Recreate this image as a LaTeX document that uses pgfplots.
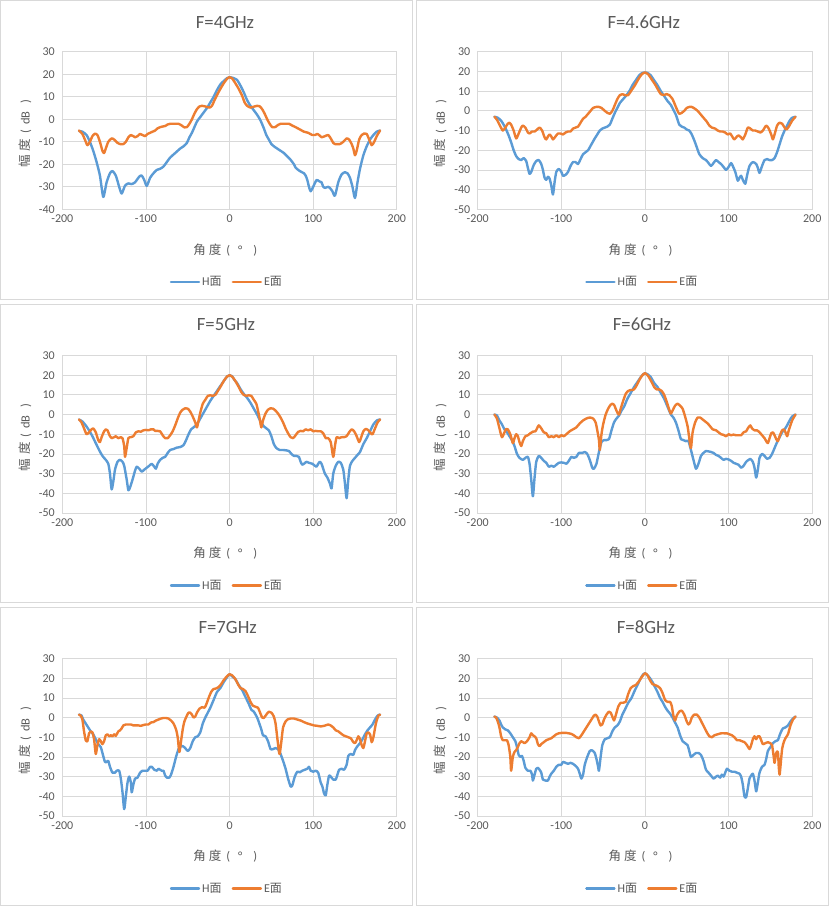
\documentclass[border=0pt]{standalone}
\usepackage{pgfplots}
\pgfplotsset{compat=1.18}
\usepackage{fontspec}
\setmainfont{Carlito}
\newfontfamily\cjk{Noto Sans CJK SC}
\definecolor{hblue}{HTML}{5B9BD5}
\definecolor{eorange}{HTML}{ED7D31}
\definecolor{gridc}{HTML}{D9D9D9}
\definecolor{txtc}{HTML}{595959}
\pgfplotsset{
  panel/.style={
    scale only axis, width=334.5pt, height=157.5pt, anchor=south west,
    xmin=-200, xmax=200, xtick={-200,-100,0,100,200},
    ymax=30, ytick distance=10,
    /pgf/number format/assume math mode=true,
    grid=major, major grid style={draw=gridc, line width=0.75pt},
    axis line style={draw=gridc, line width=0.75pt},
    major tick length=0pt, tick style={draw=none},
    ticklabel style={font=\fontsize{12}{14}\selectfont, text=txtc},
    yticklabel style={xshift=-4pt},
    xticklabel style={yshift=-2pt},
    xlabel={{\cjk 角\kern3pt度}\kern5pt(\kern8pt°\kern11pt)},
    ylabel={{\cjk 幅\kern4pt度}\kern5pt(\kern5pt dB\kern8pt)},
    label style={font=\fontsize{12.5}{15}\selectfont, text=txtc},
    xlabel style={at={(axis description cs:0.487,-0.257)}, anchor=center},
    ylabel style={at={(axis description cs:-0.111,0.48)}, anchor=center},
    legend columns=2,
    legend style={at={(0.492,-0.46)}, anchor=center, draw=none, fill=none,
      font=\fontsize{12}{14}\selectfont, text=txtc,
      /tikz/every even column/.append style={column sep=8pt}},
    legend image code/.code={\draw[#1] (0pt,0pt) -- (28pt,0pt);},
    every axis plot/.append style={line width=2.4pt, line join=round, line cap=round},
  },
  hstyle/.style={hblue, no markers, smooth, tension=0.4},
  estyle/.style={eorange, no markers, smooth, tension=0.4},
}
\begin{document}
\begin{tikzpicture}[x=1pt,y=1pt]
\useasboundingbox (0,0) rectangle (829,907);
\begin{scope}[draw=gridc, line width=0.75pt]
\draw (0.5,608) rectangle (412.3,906.5);
\draw (416,608) rectangle (828.5,906.5);
\draw (0.5,305) rectangle (412.3,603);
\draw (416,305) rectangle (828.5,603);
\draw (0.5,1.5) rectangle (412.3,300);
\draw (416,1.5) rectangle (828.5,300);
\end{scope}
\begin{scope}[font=\fontsize{18.7}{22}\selectfont, text=txtc]
\node[anchor=base] at (225,878.7) {F=4GHz};
\node[anchor=base] at (643.7,878.7) {F=4.6GHz};
\node[anchor=base] at (226,576.3) {F=5GHz};
\node[anchor=base] at (642,576.3) {F=6GHz};
\node[anchor=base] at (227.7,273) {F=7GHz};
\node[anchor=base] at (646,273) {F=8GHz};
\end{scope}

% ---------- F=4GHz
\begin{axis}[panel, at={(62.3pt,697.7pt)}, ymin=-40]
\addplot[hstyle] coordinates {(-180,-5.2) (-176,-5.5) (-171,-7) (-167,-10) (-163,-14) (-159,-19) (-155,-25) (-151,-34.5) (-147,-28) (-143,-24) (-140,-23) (-136,-25) (-132,-30) (-129,-33) (-125,-29.5) (-121,-28.5) (-117,-28.8) (-113,-28) (-108,-25.5) (-105,-25) (-102,-27) (-99,-29.6) (-95,-26) (-91,-24) (-87,-22.5) (-83,-22) (-79,-21) (-75,-19) (-71,-17) (-65,-15) (-59,-13) (-55,-12) (-51,-10.5) (-48,-8) (-45,-6) (-39,-1) (-35,1) (-31,3) (-27,5) (-23,7.5) (-19,10) (-15,13) (-11,15.5) (-7,17) (-3,18.3) (0,18.7) (4,18.4) (9,17.5) (13,15) (17,12) (21,8.5) (25,6) (29,4) (33,2) (37,-0.5) (41,-4) (44,-7) (47,-9) (50,-11) (53,-12) (59,-13.5) (65,-15) (69,-16.5) (73,-18) (77,-20) (79,-21.5) (84,-23) (89,-24) (91,-25) (93,-27) (95,-30) (97,-32) (100,-30) (104,-27) (107,-27.5) (110,-28) (112,-30) (114,-30.5) (118,-30) (120,-30.5) (123,-32) (126,-34) (130,-28) (134,-24.5) (138,-23.5) (141,-24) (144,-26) (147,-30) (150,-35) (153,-28) (156,-22) (160,-16) (164,-12) (168,-9) (172,-7) (176,-5.5) (180,-5)};
\addplot[estyle] coordinates {(-180,-5) (-176,-6.5) (-173,-9) (-170,-11.5) (-167,-10) (-164,-7.5) (-161,-6.4) (-158,-7) (-155,-10) (-152,-14) (-150,-15) (-148,-13) (-145,-10) (-141,-8.5) (-138,-9) (-134,-10.5) (-131,-11) (-127,-11) (-124,-10) (-121,-8) (-118,-7) (-115,-7.5) (-113,-8) (-110,-7.5) (-107,-6.5) (-104,-7) (-101,-7.5) (-98,-6.5) (-95,-6) (-92,-5.5) (-89,-5) (-86,-4) (-83,-3.5) (-80,-3.2) (-77,-3) (-74,-2.3) (-71,-2) (-66,-2) (-61,-2) (-57,-2.8) (-54,-3.6) (-51,-3.5) (-48,-2) (-45,0) (-42,2.5) (-39,4.5) (-36,5.7) (-33,6) (-30,5.8) (-27,5.5) (-24,5.2) (-21,6) (-18,8.5) (-14,11.5) (-11,13.5) (-7,16) (-3,18) (0,18.7) (3,18.2) (7,16) (11,13.5) (15,10.5) (18,7.5) (21,6) (25,5.2) (28,5.5) (33,6) (36,5.8) (39,4.5) (42,2.5) (45,0) (48,-2) (51,-3.5) (55,-3.4) (58,-2.5) (61,-2) (66,-2) (71,-2) (75,-2.8) (79,-3.5) (84,-4.5) (89,-5.5) (94,-6) (99,-7) (102,-7) (105,-6.5) (108,-7.3) (110,-8) (114,-7.5) (118,-7) (121,-8.5) (124,-10.5) (126,-11) (132,-11) (136,-10) (140,-8.5) (143,-9) (146,-11) (148,-13) (150,-16) (152,-14) (155,-9) (158,-7) (161,-6.3) (164,-6.5) (167,-9) (170,-11.5) (173,-10) (176,-7.5) (180,-5)};
\legend{H{\cjk 面}, E{\cjk 面}}
\end{axis}

% ---------- F=4.6GHz
\begin{axis}[panel, at={(477.7pt,697.7pt)}, ymin=-50]
\addplot[hstyle] coordinates {(-180,-3) (-176,-3.5) (-172,-5) (-169,-7) (-166,-9.5) (-163,-12.5) (-160,-16) (-157,-20) (-154,-23) (-151,-24.5) (-148,-25) (-145,-24) (-142,-25.5) (-140,-29) (-138,-32) (-136,-31) (-133,-27.5) (-130,-25.5) (-127,-25) (-124,-27) (-122,-30) (-120,-34) (-118,-35) (-116,-33.5) (-114,-34.5) (-112,-38) (-110,-42.5) (-108,-36) (-106,-31) (-103,-29.5) (-100,-31) (-98,-33) (-95,-32.5) (-92,-31) (-89,-28) (-86,-26) (-83,-26) (-80,-27) (-77,-24.5) (-74,-22) (-71,-21) (-68,-20) (-64,-17) (-60,-14) (-57,-12) (-54,-10) (-51,-9) (-48,-8.5) (-45,-8) (-42,-7) (-39,-4) (-36,-1) (-33,1.5) (-30,4) (-26,6) (-22,8) (-18,10.5) (-15,13) (-11,15.5) (-7,18) (-3,19.3) (0,19.5) (3,19.3) (7,18) (11,15.5) (15,13) (19,10) (23,7.5) (27,5) (31,3) (34,0.5) (37,-2) (39,-4.5) (41,-7) (44,-8) (47,-8.5) (50,-9.5) (53,-10) (56,-12) (59,-15) (62,-18.5) (65,-22) (69,-24) (73,-25) (76,-26.5) (79,-28) (82,-26.5) (85,-25) (88,-26) (91,-27) (94,-28.5) (97,-30) (100,-28.5) (103,-26.5) (105,-28) (108,-31) (111,-35.5) (113,-34) (115,-33) (117,-35) (120,-37) (122,-33) (125,-28) (129,-26) (133,-27) (135,-29) (137,-31.5) (140,-28) (143,-25) (146,-24.5) (149,-25) (152,-25) (155,-24) (158,-21) (161,-17) (164,-13) (167,-10) (170,-7.5) (173,-5) (176,-3.5) (180,-3)};
\addplot[estyle] coordinates {(-180,-3) (-177,-4.5) (-174,-7) (-170,-10) (-167,-8.5) (-164,-6.5) (-162,-6) (-160,-7) (-157,-10) (-154,-14) (-151,-11.5) (-148,-8.5) (-146,-7.5) (-143,-8.5) (-140,-11) (-138,-11.5) (-135,-10.5) (-132,-10.5) (-129,-9.5) (-126,-8.5) (-123,-10) (-120,-13.5) (-118,-14.5) (-116,-13) (-114,-12) (-112,-13) (-110,-14.5) (-107,-13) (-104,-11.5) (-101,-11.5) (-98,-12) (-95,-11) (-92,-10.5) (-89,-10.5) (-86,-9) (-83,-8.5) (-80,-8) (-77,-6) (-74,-4) (-71,-3) (-68,-1.5) (-65,0) (-62,1.5) (-58,2) (-55,2) (-52,1.5) (-48,0) (-45,-1) (-42,-1.5) (-39,0) (-36,3) (-33,6) (-30,8) (-27,8.5) (-24,8) (-20,8) (-16,10.5) (-12,13) (-8,16) (-4,18.5) (0,19.5) (4,18.5) (8,16) (12,13.5) (16,10.5) (19,8.5) (22,8) (26,8.5) (29,8) (33,6) (36,3) (39,0) (41,-1.5) (44,-1) (47,0) (50,1.5) (53,2) (56,2) (60,1) (63,0) (67,-2) (71,-4) (74,-5.5) (77,-7.5) (80,-8.5) (84,-9) (87,-10) (90,-10.5) (93,-10.5) (96,-11) (99,-12) (102,-11.5) (105,-13.5) (107,-14.5) (110,-13) (112,-12.5) (115,-13.5) (117,-14.5) (120,-12) (123,-8.5) (126,-9) (129,-10) (132,-10) (135,-10.5) (138,-11) (141,-10) (145,-7.5) (148,-9) (151,-12) (153,-14.5) (155,-12) (158,-7.5) (161,-6) (164,-6.5) (167,-8.5) (169,-9.5) (172,-8) (176,-5) (180,-3)};
\legend{H{\cjk 面}, E{\cjk 面}}
\end{axis}

% ---------- F=5GHz
\begin{axis}[panel, at={(62.3pt,394pt)}, ymin=-50]
\addplot[hstyle] coordinates {(-180,-2.5) (-176,-3.5) (-172,-5.5) (-168,-8) (-164,-11) (-160,-14.5) (-156,-18) (-152,-21) (-148,-23) (-145,-25) (-143,-30) (-141,-38) (-139,-34) (-137,-28) (-134,-24) (-131,-23) (-128,-24) (-126,-26) (-123,-33) (-121,-38.5) (-119,-37) (-116,-33) (-113,-28.5) (-111,-26.5) (-108,-27.5) (-105,-29) (-102,-28) (-99,-27) (-96,-26) (-93,-25) (-90,-26.5) (-88,-27.5) (-86,-25) (-83,-23) (-80,-22) (-77,-21.5) (-74,-19.5) (-71,-18) (-67,-17.5) (-63,-16.8) (-59,-16.5) (-55,-15.5) (-52,-13) (-49,-10) (-46,-7.5) (-43,-6.5) (-39,-5) (-35,-2) (-31,1) (-27,4) (-23,7) (-19,9.5) (-15,12) (-11,14.5) (-7,17) (-3,19.3) (0,20) (3,19.5) (6,17.5) (9,16) (13,13) (17,10.5) (21,8.5) (25,6) (29,3) (33,0) (37,-3.5) (41,-6) (44,-7) (47,-8) (50,-11) (53,-15) (56,-17) (60,-18) (64,-18) (68,-18.2) (71,-18.5) (74,-20) (77,-21) (80,-21) (83,-21.5) (85,-24) (87,-25.5) (89,-25) (92,-24) (95,-24.5) (99,-25) (102,-26) (104,-26.5) (106,-25) (108,-24) (110,-25) (112,-27.5) (114,-30) (117,-32) (120,-35) (122,-37.5) (124,-30) (127,-26) (130,-24) (133,-24.5) (136,-28) (138,-35) (140,-42.5) (142,-33) (144,-26) (147,-23.5) (150,-22) (153,-20.5) (156,-19) (160,-15) (164,-12) (168,-8.5) (172,-5) (176,-3) (180,-2.5)};
\addplot[estyle] coordinates {(-180,-2.5) (-177,-4) (-174,-7) (-171,-10) (-168,-9) (-165,-7.5) (-163,-7) (-160,-9) (-157,-13) (-155,-14) (-153,-11.5) (-150,-8.5) (-148,-7.5) (-146,-8) (-143,-11) (-141,-12) (-138,-11.5) (-136,-11) (-133,-12) (-130,-11.5) (-128,-12) (-126,-16) (-125,-21.5) (-123,-17) (-121,-12) (-118,-11.5) (-115,-11) (-112,-9) (-109,-8.5) (-106,-8.7) (-103,-8) (-100,-7.8) (-97,-8) (-94,-7.5) (-91,-7.5) (-89,-8.3) (-86,-8.3) (-83,-8.5) (-80,-10.5) (-77,-12) (-74,-12) (-71,-10.5) (-68,-8.5) (-65,-5.5) (-62,-2) (-59,1) (-56,2.5) (-53,3.2) (-50,3) (-47,1.5) (-44,-1) (-41,-4) (-39,-6.5) (-37,-3) (-35,1) (-32,5.5) (-29,7.5) (-26,9.5) (-23,9.8) (-20,9.5) (-17,10) (-14,12) (-11,14) (-7,17) (-3,19.3) (0,20) (3,19.3) (7,17) (11,14) (14,11.5) (17,10) (20,9.5) (23,9.8) (26,9.5) (29,7.5) (32,5.5) (34,2) (36,-2) (38,-6.5) (40,-3) (43,0.5) (46,2.5) (49,3.2) (52,3) (55,2) (58,0.5) (61,-1.5) (64,-4) (67,-7) (70,-9.5) (73,-11.5) (76,-12) (79,-10.5) (82,-8.8) (85,-8.3) (88,-8.5) (91,-7.5) (94,-8) (97,-7.5) (100,-8.5) (103,-8.3) (106,-8.5) (109,-8.5) (112,-9.5) (115,-12) (118,-12) (121,-14) (124,-21.5) (126,-16) (128,-11.5) (131,-12) (134,-11.5) (137,-11.5) (140,-11) (143,-9) (146,-7.5) (149,-8.5) (152,-11) (155,-14) (157,-12) (160,-8.5) (163,-7.3) (166,-8) (169,-9.5) (171,-10) (174,-7) (177,-4) (180,-2.5)};
\legend{H{\cjk 面}, E{\cjk 面}}
\end{axis}

% ---------- F=6GHz
\begin{axis}[panel, at={(477.7pt,394pt)}, ymin=-50]
\addplot[hstyle] coordinates {(-180,0) (-177,-0.5) (-174,-3) (-171,-5) (-168,-7.5) (-165,-9) (-162,-11) (-159,-13) (-156,-16) (-153,-20) (-150,-22) (-146,-23) (-143,-22) (-140,-21.5) (-138,-25) (-136,-33) (-134,-41.5) (-132,-32) (-130,-24) (-127,-21) (-124,-22) (-121,-23.5) (-118,-24.5) (-115,-26.5) (-112,-26) (-109,-26.5) (-106,-25.5) (-103,-24.5) (-100,-24.3) (-97,-24.5) (-94,-25) (-91,-23.5) (-88,-21.5) (-85,-22) (-82,-21.5) (-79,-19.5) (-75,-19.5) (-72,-19) (-69,-20) (-66,-23) (-63,-27) (-61,-27.5) (-58,-25) (-55,-19) (-52,-14) (-49,-13) (-46,-13) (-43,-12.5) (-40,-8) (-37,-4) (-34,-2) (-31,-0.5) (-28,2) (-25,4) (-21,8) (-17,11) (-13,14) (-9,16.5) (-5,19) (-2,20.5) (0,21) (3,20.5) (7,19) (11,16) (15,14) (19,11) (23,8) (27,4) (31,0) (34,-1.5) (37,-4) (40,-8) (43,-12.5) (46,-13) (49,-13.5) (52,-13.5) (55,-18) (58,-23) (61,-27.5) (64,-25) (67,-21) (70,-19.5) (73,-18.5) (76,-18.7) (79,-19) (82,-19.5) (85,-20.5) (88,-21) (91,-22) (94,-23) (97,-22.5) (100,-22.8) (103,-23.5) (106,-24.5) (109,-25) (112,-25.5) (115,-27) (118,-26) (121,-24) (124,-23) (126,-22.5) (129,-24) (131,-27) (133,-32) (135,-28) (137,-22) (140,-20) (143,-21) (146,-22.5) (149,-22) (152,-20) (155,-17) (158,-14) (161,-11.5) (164,-9) (167,-7.5) (170,-5.5) (173,-3) (176,-1) (180,0)};
\addplot[estyle] coordinates {(-180,0) (-177,-2) (-174,-7) (-171,-11.5) (-168,-9) (-166,-7.3) (-164,-7.5) (-161,-10) (-158,-14.5) (-156,-12) (-154,-10) (-152,-11) (-150,-14) (-148,-16) (-146,-13.5) (-143,-11) (-140,-10.5) (-137,-9.5) (-134,-8.7) (-131,-8.5) (-129,-7) (-127,-5.5) (-124,-7) (-121,-9) (-118,-9.5) (-115,-11.5) (-112,-11) (-109,-11.5) (-106,-10.5) (-103,-11.5) (-100,-10.5) (-97,-11) (-94,-10) (-90,-8.5) (-86,-7.5) (-82,-6.5) (-78,-4.5) (-74,-3) (-70,-2) (-66,-1.5) (-62,-2) (-59,-4) (-57,-8) (-55,-13) (-54,-18) (-52,-10) (-50,-5) (-47,0) (-44,3) (-41,5) (-39,5.5) (-37,5) (-35,3) (-33,1) (-31,0) (-29,3) (-26,7) (-23,10.5) (-20,12) (-17,12.5) (-14,12.5) (-11,14) (-8,16.5) (-4,19.5) (0,21) (4,19.5) (8,16.5) (11,14) (14,12.8) (17,12.8) (20,12) (23,10) (26,6.5) (29,2.5) (31,0.5) (33,2) (36,4.5) (39,5.5) (42,4.5) (45,3) (48,-1) (51,-6) (53,-12) (55,-17) (57,-9) (60,-4) (63,-1.5) (66,-1.5) (69,-2.5) (72,-3.5) (75,-4.5) (78,-6) (81,-7.5) (85,-8) (88,-9) (91,-10) (94,-10.3) (97,-11) (100,-10) (103,-10.5) (106,-10.2) (109,-10.5) (112,-10.5) (115,-10.5) (118,-9) (121,-8.5) (123,-7) (126,-5.5) (128,-7) (131,-8) (134,-8) (137,-9) (140,-10.5) (143,-12) (145,-13.5) (147,-14.5) (149,-12) (151,-9.5) (153,-9) (155,-10.5) (157,-12.5) (159,-13.5) (161,-11) (164,-8) (166,-7.5) (168,-9) (170,-11) (172,-8) (176,-3) (180,0)};
\legend{H{\cjk 面}, E{\cjk 面}}
\end{axis}

% ---------- F=7GHz
\begin{axis}[panel, at={(62.3pt,91pt)}, ymin=-50]
\addplot[hstyle] coordinates {(-180,1.5) (-177,1) (-175,-1) (-172,-3) (-169,-5) (-166,-7) (-163,-8.5) (-160,-11) (-157,-13.5) (-154,-15) (-152,-18) (-149,-22.5) (-147,-22.5) (-145,-22) (-143,-25) (-140,-28) (-137,-28) (-135,-27) (-132,-27) (-130,-31) (-128,-38) (-126,-46.5) (-124,-40) (-122,-33) (-120,-30) (-118,-33) (-117,-38) (-115,-34) (-113,-31) (-110,-30.5) (-107,-28) (-104,-27) (-101,-27) (-98,-27) (-95,-25) (-93,-25) (-90,-26.5) (-87,-27) (-85,-26) (-83,-26.5) (-81,-27) (-79,-27) (-77,-29.5) (-75,-30.5) (-72,-30.5) (-70,-29) (-67,-25) (-64,-20) (-61,-16) (-59,-14.8) (-56,-14.5) (-53,-15.5) (-50,-17) (-47,-15.5) (-44,-12) (-41,-10) (-38,-9.5) (-35,-7.5) (-32,-3) (-29,0) (-26,2.5) (-23,5) (-19,9) (-15,13) (-11,15) (-7,18) (-3,20.5) (0,22) (3,21) (7,19.5) (11,16.5) (15,14) (19,10.5) (23,7) (26,4) (29,3) (33,0) (36,-3.5) (38,-6) (40,-9) (43,-9.5) (46,-12) (49,-16) (52,-16) (55,-15.5) (58,-16) (61,-18.5) (64,-22) (67,-26) (70,-31) (73,-35) (75,-34.5) (78,-30) (81,-27.5) (84,-27.8) (87,-27) (90,-26.5) (93,-26) (95,-25) (97,-27) (100,-27.5) (103,-27) (106,-28) (109,-33) (111,-35) (113,-38.5) (115,-39.5) (117,-34) (119,-29.5) (121,-30) (124,-31.5) (127,-31.5) (129,-29) (131,-26.5) (134,-26) (137,-26.5) (140,-24) (142,-19.5) (145,-18.5) (148,-19) (150,-16.5) (153,-14.5) (156,-13) (159,-11) (162,-8.5) (165,-6.5) (168,-5) (171,-3.5) (174,-1) (177,1) (180,1.5)};
\addplot[estyle] coordinates {(-180,1.5) (-178,1) (-176,-1) (-174,-7) (-172,-11.5) (-170,-12) (-168,-8) (-166,-7) (-164,-7.5) (-162,-11) (-160,-18.5) (-158,-14) (-156,-11) (-154,-12) (-152,-13.5) (-150,-12) (-148,-9) (-146,-8.5) (-144,-9.5) (-142,-9) (-140,-9.5) (-138,-8.5) (-136,-9.3) (-133,-7) (-131,-6.5) (-129,-5.5) (-127,-4) (-124,-3.5) (-121,-3.5) (-118,-3.5) (-115,-4) (-112,-4) (-109,-4) (-106,-4.2) (-103,-3.8) (-100,-3.5) (-97,-3.5) (-94,-2.5) (-91,-2.3) (-88,-1.5) (-85,-1) (-82,-0.5) (-79,-0.2) (-76,-0.2) (-73,-0.5) (-70,-1.5) (-67,-3) (-64,-6) (-62,-10) (-60,-17.5) (-58,-12) (-56,-6) (-54,-2) (-51,1) (-49,2.5) (-47,2.5) (-45,1.5) (-43,0) (-41,0.5) (-39,2.5) (-36,4.5) (-33,5.3) (-30,5) (-28,6.5) (-25,10) (-22,13) (-19,14.5) (-16,14.8) (-13,15.5) (-10,17) (-7,19) (-3,21) (0,22) (3,21.5) (7,19.5) (10,17) (13,15) (16,14.5) (19,13.5) (22,11) (25,8) (28,6) (31,5.5) (34,5) (37,2) (39,0) (41,-0.2) (44,1.5) (47,3) (50,2.5) (53,0.5) (55,-3) (57,-10) (59,-17) (60,-18.5) (62,-12) (64,-5) (67,-2) (70,-0.8) (73,-0.5) (77,-0.5) (81,-1) (85,-1.5) (89,-2.3) (93,-3) (97,-3.5) (101,-4) (105,-4.2) (109,-4.5) (113,-4.2) (116,-3.8) (118,-3.5) (121,-4) (124,-5) (127,-6.5) (130,-7) (133,-8) (136,-9) (139,-9.5) (142,-10) (145,-10.5) (148,-12.5) (150,-13) (152,-11.5) (154,-9.5) (156,-11) (158,-14) (160,-15.5) (162,-12) (164,-8) (166,-7.5) (168,-8.5) (170,-12.5) (172,-10) (175,-3) (178,1) (180,1.5)};
\legend{H{\cjk 面}, E{\cjk 面}}
\end{axis}

% ---------- F=8GHz
\begin{axis}[panel, at={(477.7pt,91pt)}, ymin=-50]
\addplot[hstyle] coordinates {(-180,0.5) (-177,0) (-174,-1.5) (-172,-3.5) (-170,-5) (-167,-6) (-164,-6.5) (-161,-8) (-158,-10) (-155,-12) (-153,-15) (-151,-19) (-149,-20) (-147,-19.5) (-145,-22) (-143,-25.5) (-140,-27) (-137,-27) (-135,-29) (-134,-32) (-132,-29) (-130,-26) (-128,-25.5) (-126,-26.5) (-124,-28) (-122,-31.5) (-119,-32) (-116,-32) (-114,-30) (-112,-28.5) (-109,-27) (-106,-25) (-103,-24) (-100,-24) (-98,-22.5) (-95,-23) (-92,-23.5) (-89,-23) (-86,-23.5) (-83,-24.5) (-80,-26) (-78,-28.5) (-76,-31) (-74,-29) (-72,-24) (-69,-20) (-66,-17) (-64,-16.5) (-62,-17) (-60,-18) (-58,-21) (-56,-25) (-55,-27) (-53,-20) (-51,-14) (-48,-11) (-45,-10.5) (-42,-10) (-39,-7) (-36,-5) (-33,-4) (-30,-2) (-27,1.5) (-24,4) (-20,7.5) (-16,10) (-13,13) (-9,16.5) (-5,20) (-2,22) (0,22.5) (3,21.5) (6,20) (9,18) (12,15.5) (15,13) (18,10) (21,8) (24,5.5) (27,3.5) (30,2) (33,0) (36,-2.5) (39,-5) (42,-9) (45,-12) (48,-13) (51,-14) (53,-17) (55,-20) (58,-19) (61,-18) (64,-18) (67,-19) (70,-22) (73,-26.5) (76,-28) (79,-29.5) (82,-31) (85,-30) (87,-29.5) (90,-30.5) (92,-29) (94,-30) (96,-28) (98,-26) (101,-27) (104,-27.5) (107,-27.5) (110,-28) (113,-28.5) (115,-30) (117,-34) (119,-40) (121,-40.5) (123,-36) (125,-31) (127,-29.5) (129,-28.5) (131,-32) (133,-37.5) (135,-33) (137,-28) (140,-25) (143,-24) (145,-21) (147,-17) (150,-15) (153,-13) (156,-12) (159,-11.5) (161,-9) (163,-7) (165,-5.5) (168,-5) (171,-4) (174,-2) (177,-0.5) (180,0.5)};
\addplot[estyle] coordinates {(-180,0.5) (-178,0) (-176,-2) (-174,-5) (-172,-9.5) (-170,-11.5) (-167,-11.5) (-165,-11.5) (-163,-14) (-161,-20) (-160,-27) (-158,-20) (-156,-17.5) (-154,-16.5) (-152,-15) (-150,-13) (-148,-12) (-146,-12.5) (-144,-13) (-141,-12) (-138,-10) (-136,-8) (-134,-9) (-132,-9.5) (-130,-10.5) (-128,-13.5) (-126,-14.5) (-124,-13.5) (-121,-12.5) (-118,-11.5) (-115,-11) (-112,-10.5) (-109,-9.5) (-106,-8.5) (-103,-8) (-100,-7.8) (-97,-7.8) (-94,-7.8) (-91,-8) (-88,-8.3) (-85,-9) (-82,-10) (-79,-10.5) (-76,-9) (-73,-7) (-70,-5) (-67,-3) (-64,-1) (-61,1) (-59,1.5) (-57,0.5) (-55,-2) (-53,-4) (-51,-3.5) (-49,-1) (-46,1.5) (-43,3) (-41,2.5) (-39,0.5) (-37,-1.5) (-35,1) (-32,5.5) (-29,7.5) (-26,7.5) (-23,8) (-20,12) (-17,15) (-14,16) (-11,16.5) (-7,18.5) (-4,20.5) (0,22.5) (3,21.5) (6,19) (9,17) (12,16.5) (15,16) (18,15) (21,12.5) (24,9) (27,8) (30,8) (32,6) (34,1) (36,-1.5) (38,1) (41,3) (44,3.5) (47,1.5) (50,-2) (52,-3.5) (54,-2.5) (56,0) (59,1.5) (62,1.5) (65,0) (68,-2.5) (71,-5) (74,-7.5) (77,-9.5) (80,-10) (83,-9) (87,-8.5) (91,-8) (95,-8) (98,-8) (101,-8.5) (104,-9) (107,-10) (110,-11.5) (113,-11.5) (116,-12) (119,-12.5) (122,-14) (125,-16) (127,-14) (129,-11) (131,-9.5) (133,-11) (135,-9.5) (137,-9.5) (139,-11.5) (141,-13.5) (144,-13) (147,-12.5) (150,-13) (152,-14) (154,-20) (155,-23) (157,-18) (159,-17.5) (160,-25) (161,-29) (162,-25) (164,-16) (166,-12.5) (168,-10.5) (171,-8.5) (174,-4) (177,-1) (180,0.5)};
\legend{H{\cjk 面}, E{\cjk 面}}
\end{axis}
\end{tikzpicture}
\end{document}
